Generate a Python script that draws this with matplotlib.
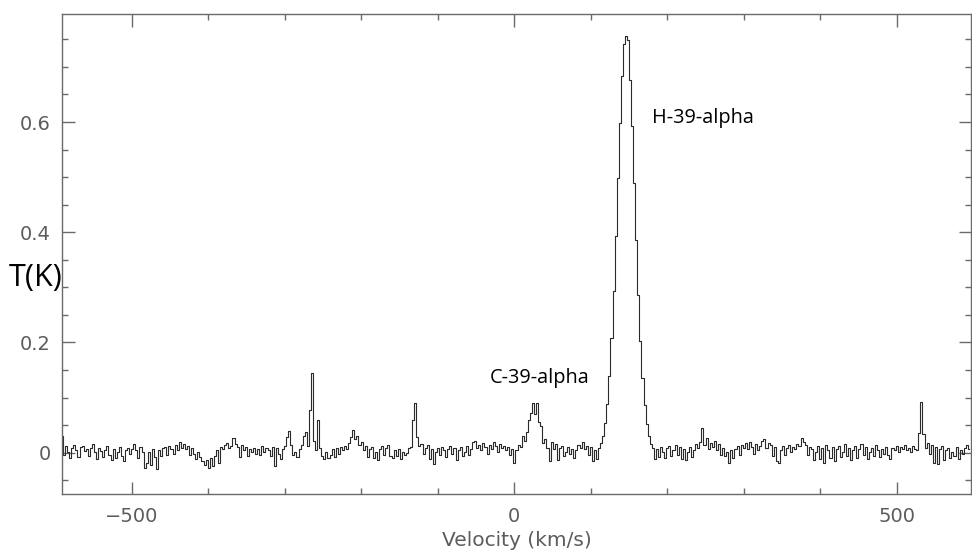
import matplotlib

matplotlib.use("Agg")
import matplotlib.pyplot as plt
import numpy as np
from matplotlib.ticker import MultipleLocator

# Spectrum: channel grid + antenna temperature in mK
VEL_START = -591.0  # km/s, centre of first channel
CHAN_WIDTH = 2.7    # km/s
temp_mk = [
    30, -5, 12, 2, -10, 8, 14, 4, -8, 10, 12, 3, 6, -6, 9, 15, 2, -12, 8, 3,
    -8, 5, 13, -4, -14, 6, -10, 2, 10, -6, -15, 4, 9, -2, 6, 16, 4, -9, 11, 2,
    -28, -18, 2, -22, 6, -8, -30, 4, -6, 8, 10, -4, 12, 6, -2, 14, 4, 20, 8, 16,
    6, 12, -4, 8, -2, -12, 2, -8, -16, -22, -14, -28, -10, -24, -6, 4, -18, 10, 6, 14,
    18, 8, 12, 26, 16, 10, -8, 14, 4, 10, -6, 6, 2, 8, -2, 6, -4, 12, 2, 9,
    4, -6, 10, -24, 8, -2, -12, 6, 12, 28, 40, 14, -4, 2, -8, 6, 14, 30, 38, 12,
    77, 145, 22, 4, 59, 8, -6, -12, 2, -10, -4, 6, -8, 8, -2, 10, 4, 12, 6, 18,
    28, 41, 24, 30, 14, 20, 4, 12, -8, 6, 10, -10, 2, -14, 6, 12, -4, 8, 14, -6,
    -10, 4, -6, 6, -12, 2, -4, 0, 8, 10, 60, 90, 28, 12, 16, -2, 8, 14, -12, 6,
    -20, 2, 8, -4, 10, 4, -8, 6, 12, -2, 8, -14, 4, 10, -6, 2, 12, -4, 6, 20,
    22, 8, 14, 4, 18, 10, -2, 14, 6, 20, 12, 2, 16, 8, 12, 4, 10, -4, 6, -18,
    4, 14, 10, 30, 22, 38, 60, 72, 90, 70, 90, 56, 48, 18, 24, 8, -16, 20, 6, 16,
    -14, 8, 12, -6, 2, 10, -2, 6, -10, 4, 14, 8, 20, 6, 12, -4, 10, -16, 4, -12,
    9, 17, 31, 54, 89, 140, 208, 294, 393, 498, 598, 683, 742, 756, 748, 677, 592, 490, 385, 287,
    203, 135, 86, 52, 30, 16, 8, -12, 6, -8, 10, 2, -10, 8, 12, -6, 4, 14, -4, 10,
    -12, 6, -14, 2, 10, -8, 4, 16, 8, 20, 45, 14, 26, 6, 18, 10, 22, 4, 16, -4,
    8, -6, 2, -18, 4, -10, 6, 12, -4, 14, 8, 18, 6, 20, 10, -2, 16, 4, 12, 22,
    24, 8, 18, 14, -6, 10, -16, -18, 4, 12, -4, 8, 14, 2, 10, 6, 16, 12, 26, 20,
    14, -4, 10, 6, -14, 2, 12, -12, 8, -18, 14, 4, -10, 10, -16, 6, 12, -8, 2, 16,
    -6, 8, -14, 4, 12, -10, 6, 16, -4, 10, -12, 2, 8, -6, 14, 4, -8, 6, -2, 10,
    -4, -12, 8, 4, 12, 2, 10, 6, 14, 4, 8, 2, 12, 6, 4, 36, 92, 34, 8, 18,
    -2, 14, -18, 10, -20, 6, 12, -14, 4, 8, -10, 2, -6, 10, -12, 4, -2, 8, 14, 6,
]

line_labels = ["H-39-alpha", "C-39-alpha"]
label_pos = [(180, 0.607), (-32, 0.135)]  # (velocity, T) of label left edge

AXIS_GREY = "#6a6a6a"
TEXT_GREY = "#5c5c5c"

vel = VEL_START + CHAN_WIDTH * np.arange(len(temp_mk))
temp = np.array(temp_mk) / 1000.0

fig = plt.figure(figsize=(9.72, 5.52), dpi=100, facecolor="white")
ax = fig.add_axes([62 / 972, 1 - 494 / 552, (971 - 62) / 972, (494 - 14) / 552])

ax.plot(vel, temp, drawstyle="steps-mid", color="#2a2a2a", lw=0.8)

ax.set_xlim(-591, 597)
ax.set_ylim(-0.075, 0.796)

ax.xaxis.set_minor_locator(MultipleLocator(100))
ax.yaxis.set_minor_locator(MultipleLocator(0.05))
ax.set_yticks([0, 0.2, 0.4, 0.6])
ax.set_yticklabels(["0", "0.2", "0.4", "0.6"])
ax.set_xticks([-500, 0, 500])
ax.set_xticklabels(["\u2212500", "0", "500"])

ax.tick_params(which="both", direction="in", top=True, right=True, color=AXIS_GREY,
               labelcolor=TEXT_GREY, labelsize=14, width=1.0)
ax.tick_params(which="major", length=9)
ax.tick_params(which="minor", length=4.5)
ax.tick_params(axis="x", which="major", pad=9)
ax.tick_params(axis="y", which="major", pad=8)
for spine in ax.spines.values():
    spine.set_color(AXIS_GREY)
    spine.set_linewidth(1.0)

ax.set_xlabel("Velocity (km/s)", color=TEXT_GREY, fontsize=14.5, labelpad=4)

for text, (xv, yv) in zip(line_labels, label_pos):
    ax.text(xv, yv, text, ha="left", va="center", fontsize=14.3,
            family="Open Sans", color="black")

fig.text(9 / 972, 1 - 278 / 552, "T(K)", ha="left", va="center", fontsize=22,
         family="Open Sans", color="black")

fig.savefig("out.png", dpi=100, facecolor="white")
